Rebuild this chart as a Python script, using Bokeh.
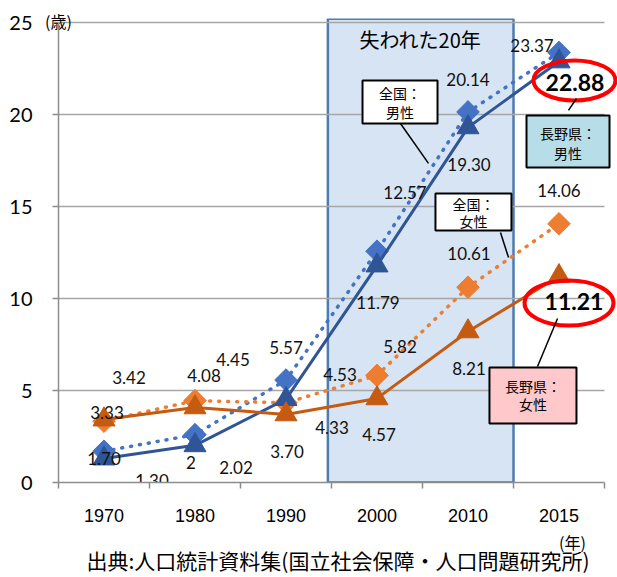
import math
from bokeh.plotting import figure
from bokeh.models import Range1d, FixedTicker, Label, LinearAxis
from bokeh.core.properties import value
from bokeh.embed import file_html
from bokeh.resources import INLINE

# ---------------- data ----------------
years = ["1970", "1980", "1990", "2000", "2010", "2015"]
national_male = [1.70, 2.60, 5.57, 12.57, 20.14, 23.37]     # 全国：男性
nagano_male = [1.30, 2.02, 4.53, 11.79, 19.30, 22.88]       # 長野県：男性
national_female = [3.33, 4.45, 4.33, 5.82, 10.61, 14.06]    # 全国：女性
nagano_female = [3.42, 4.08, 3.70, 4.57, 8.21, 11.21]       # 長野県：女性
y_ticks = [0, 5, 10, 15, 20, 25]

national_male_text = ["1.70", "2", "5.57", "12.57", "20.14", "23.37"]
nagano_male_text = ["1.30", "2.02", "4.53", "11.79", "19.30", "22.88"]
national_female_text = ["3.33", "4.45", "4.33", "5.82", "10.61", "14.06"]
nagano_female_text = ["3.42", "4.08", "3.70", "4.57", "8.21", "11.21"]

# ---------------- layout (label offsets in px) ----------------
nm_dx = [0, -4, 0, 28, 0, -27]
nm_dy = [7, 28, -33, -59, -32, -7]
km_dx = [48, 41, 54, 1, 1, 16]
km_dy = [22, 22, -25, 37, 37, 21]
nf_dx = [3, 38, 46, 23, 1, 0]
nf_dy = [-9, -41, 25, -29, -34, -33]
kf_dx = [25, 9, 1, 2, 1, 15]
kf_dy = [-42, -32, 37, 36, 37, 25]

xs = [i + 0.5 for i in range(len(years))]
n = len(years)
PX_PER_CAT = 91.0
FRAME_W = 617 - 58
FRAME_TOP_PAD = 4 / 18.4

BLUE_L = "#4472C4"
BLUE_D = "#2F5597"
ORANGE_L = "#ED7D31"
ORANGE_D = "#C55A11"
GRID = "#A6A6A6"
AXIS = "#8C8C8C"
JP = "Noto Sans CJK JP"

p = figure(width=617, height=577,
           x_range=Range1d(0, FRAME_W / PX_PER_CAT),
           y_range=Range1d(0, 25 + FRAME_TOP_PAD),
           output_backend="svg", toolbar_location=None,
           min_border_left=58, min_border_right=0,
           min_border_top=18, min_border_bottom=95)
p.outline_line_color = None
p.xgrid.visible = False
p.ygrid.visible = False

# era box (失われた20年)
p.quad(left=2.96, right=5.0, bottom=0, top=25.2,
       fill_color="#D6E4F4", line_color="#4F7CB0", line_width=2.5, level="underlay")

# grid lines
p.segment(x0=[0] * (len(y_ticks) - 1), x1=[n] * (len(y_ticks) - 1),
          y0=y_ticks[1:], y1=y_ticks[1:], line_color=GRID, line_width=1.5)

# y axis
p.yaxis.ticker = FixedTicker(ticks=y_ticks)
p.yaxis.bounds = (0, 25)
p.yaxis.axis_line_color = AXIS
p.yaxis.axis_line_width = 1.5
p.yaxis.major_tick_line_color = AXIS
p.yaxis.major_tick_line_width = 1.5
p.yaxis.major_tick_out = 6
p.yaxis.major_tick_in = 0
p.yaxis.minor_tick_line_color = None
p.yaxis.major_label_standoff = 20
p.yaxis.major_label_text_font = "Lato"
p.yaxis.major_label_text_font_size = "20px"
p.yaxis.major_label_text_color = "black"

# x axis (category labels centred, ticks at category boundaries)
p.xaxis.ticker = FixedTicker(ticks=xs, minor_ticks=list(range(n + 1)))
p.xaxis.bounds = (0, n)
p.xaxis.major_label_overrides = {x: y for x, y in zip(xs, years)}
p.xaxis.axis_line_color = AXIS
p.xaxis.axis_line_width = 1.5
p.xaxis.major_tick_line_color = None
p.xaxis.major_tick_out = 0
p.xaxis.major_tick_in = 0
p.xaxis.minor_tick_line_color = AXIS
p.xaxis.minor_tick_line_width = 1.5
p.xaxis.minor_tick_out = 6
p.xaxis.minor_tick_in = 0
p.xaxis.major_label_standoff = 20
p.xaxis.major_label_text_font = "Liberation Sans"
p.xaxis.major_label_text_font_size = "18px"
p.xaxis.major_label_text_color = "black"


def bare_axis(**kw):
    ax = LinearAxis(**kw)
    ax.axis_line_color = None
    ax.major_tick_line_color = None
    ax.minor_tick_line_color = None
    ax.major_tick_out = 0
    ax.major_tick_in = 0
    ax.minor_tick_out = 0
    ax.minor_tick_in = 0
    return ax


# unit of the y axis: (歳) at the top of the axis
unit_y = bare_axis(ticker=FixedTicker(ticks=[0]), major_label_overrides={0: "(歳)"})
unit_y.major_label_standoff = -14
unit_y.major_label_text_font = JP
unit_y.major_label_text_font_size = "16px"
unit_y.major_label_text_color = "black"
p.add_layout(unit_y, "above")

# unit of the x axis (年) and the source line
x_pos_unit = 5.648
unit_x = bare_axis(ticker=FixedTicker(ticks=[x_pos_unit]),
                   major_label_overrides={x_pos_unit: "(年)"})
unit_x.major_label_standoff = 5
unit_x.major_label_text_font = JP
unit_x.major_label_text_font_size = "16px"
unit_x.major_label_text_color = "black"
unit_x.axis_label = "出典:人口統計資料集(国立社会保障・人口問題研究所)"
unit_x.axis_label_standoff = -12
unit_x.axis_label_text_font = JP
unit_x.axis_label_text_font_size = "21px"
unit_x.axis_label_text_font_style = "normal"
unit_x.axis_label_text_color = "black"
p.add_layout(unit_x, "below")

# series
p.line(xs, national_male, line_color=BLUE_L, line_width=3.5, line_dash="1 8", line_cap="round")
p.scatter(xs, national_male, marker="square", size=16, angle=math.pi / 4,
          fill_color=BLUE_L, line_color=BLUE_L)
p.line(xs, national_female, line_color=ORANGE_L, line_width=3.5, line_dash="1 8", line_cap="round")
p.scatter(xs, national_female, marker="square", size=16, angle=math.pi / 4,
          fill_color=ORANGE_L, line_color=ORANGE_L)
p.line(xs, nagano_male, line_color=BLUE_D, line_width=3)
p.scatter(xs, nagano_male, marker="triangle", size=22, fill_color=BLUE_D, line_color=BLUE_D)
p.line(xs, nagano_female, line_color=ORANGE_D, line_width=3)
p.scatter(xs, nagano_female, marker="triangle", size=22, fill_color=ORANGE_D, line_color=ORANGE_D)

# data labels
lab_kw = dict(text_font=value("Lato"), text_font_size="17px", text_color="#111111",
              text_align="center", text_baseline="middle")
p.text(xs, national_male, text=national_male_text, x_offset=nm_dx, y_offset=nm_dy, **lab_kw)
p.text(xs, national_female, text=national_female_text, x_offset=nf_dx, y_offset=nf_dy, **lab_kw)
p.text(xs[:-1], nagano_male[:-1], text=nagano_male_text[:-1],
       x_offset=km_dx[:-1], y_offset=km_dy[:-1], **lab_kw)
p.text(xs[:-1], nagano_female[:-1], text=nagano_female_text[:-1],
       x_offset=kf_dx[:-1], y_offset=kf_dy[:-1], **lab_kw)

bold_kw = dict(text_font=value("Lato"), text_font_size="23px", text_font_style="bold",
               text_color="black", text_align="center", text_baseline="middle")
p.text(xs[-1:], nagano_male[-1:], text=nagano_male_text[-1:],
       x_offset=km_dx[-1:], y_offset=km_dy[-1:], **bold_kw)
p.text(xs[-1:], nagano_female[-1:], text=nagano_female_text[-1:],
       x_offset=kf_dx[-1:], y_offset=kf_dy[-1:], **bold_kw)

# red ellipses
p.ellipse(x=[5.670, 5.610], y=[21.85, 9.755], width=[82, 89], height=[40, 45],
          width_units="screen", height_units="screen",
          fill_color=None, line_color="#FF0000", line_width=4)

# callout pointers
p.segment(x0=[3.758, 4.857, 5.692, 5.484], y0=[19.51, 13.59, 20.87, 8.91],
          x1=[4.066, 4.945, 5.604, 5.264], y1=[17.34, 12.23, 20.22, 6.30],
          line_color="black", line_width=1.5)

# callout boxes
bx = [3.753, 4.560, 5.599, 5.214]
by = [20.68, 14.70, 18.53, 4.73]
p.rect(x=bx, y=by, width=[75, 76, 83, 87], height=[43, 37, 52, 56],
       width_units="screen", height_units="screen",
       fill_color=["white", "white", "#B7DEE8", "#FFC8CA"], line_color="black", line_width=2)

call_kw = dict(text_font=value(JP), text_font_size="14px", text_color="black",
               text_align="center", text_baseline="middle")
p.text(x=[bx[0], bx[0], bx[1], bx[1], bx[2], bx[2], bx[3], bx[3]],
       y=[by[0], by[0], by[1], by[1], by[2], by[2], by[3], by[3]],
       text=["全国：", "男性", "全国：", "女性", "長野県：", "男性", "長野県：", "女性"],
       y_offset=[-9, 10, -8, 9, -9, 11, -9, 9], **call_kw)

# era title
p.add_layout(Label(x=3.98, y=24.08, text="失われた20年", text_font=JP,
                   text_font_size="20px", text_align="center", text_baseline="middle",
                   text_color="black"))

open("out.html", "w").write(file_html(p, INLINE))
